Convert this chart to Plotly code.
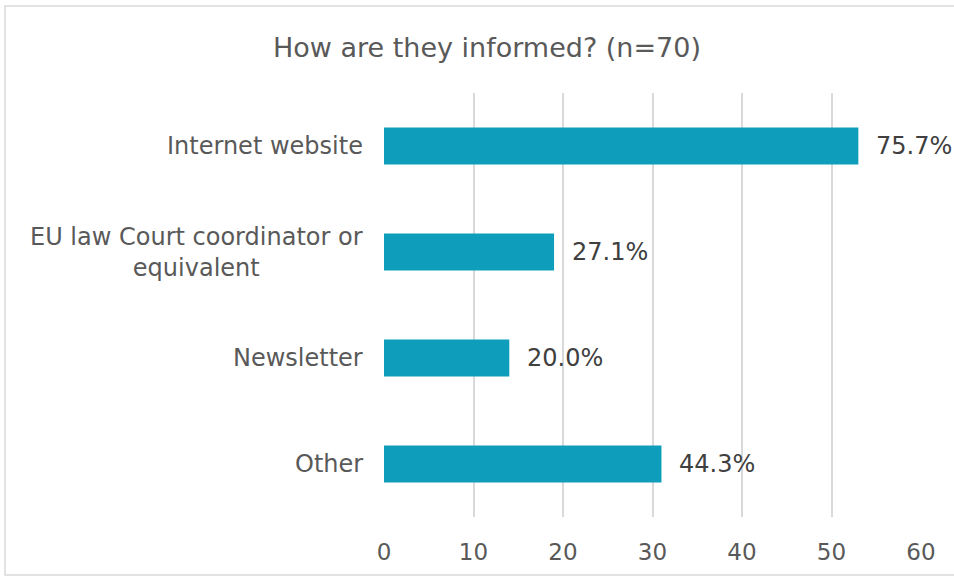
import plotly.graph_objects as go

# Survey responses (n=70): counts per information channel
categories = ["Internet website", "EU law Court coordinator or<br>equivalent", "Newsletter", "Other"]
counts = [53, 19, 14, 31]
pct_labels = ["75.7%", "27.1%", "20.0%", "44.3%"]
x_ticks = [0, 10, 20, 30, 40, 50, 60]

W, H = 954, 576
ML, MR, MT, MB = 384, 33, 93, 59
GREY = "#595959"
BAR = "#0E9DBB"
FONT = "DejaVu Sans"

fig = go.Figure(
    go.Bar(
        x=counts,
        y=categories,
        orientation="h",
        marker=dict(color=BAR, line=dict(width=0)),
        width=0.35,
        hoverinfo="x+y",
    )
)

# Category labels, each line centred, right edge next to the axis
for cat in categories:
    fig.add_annotation(
        x=0, xref="paper", xshift=-19, xanchor="right",
        y=cat, yref="y", yanchor="middle",
        text=cat, showarrow=False, align="center",
        font=dict(family=FONT, size=24, color=GREY),
    )

# Percentage labels just past the end of each bar
for cat, val, lab in zip(categories, counts, pct_labels):
    fig.add_annotation(
        x=val, xref="x", xshift=16, xanchor="left",
        y=cat, yref="y", yanchor="middle",
        text=lab, showarrow=False,
        font=dict(family=FONT, size=24, color="#404040"),
    )

# Light chart-area border
pw = W - ML - MR
ph = H - MT - MB
fig.add_shape(
    type="rect", xref="paper", yref="paper",
    x0=(5 - ML) / pw, x1=(W + 10 - ML) / pw,
    y0=-(MB - 1) / ph, y1=1 + (MT - 6) / ph,
    line=dict(color="#d9d9d9", width=1.5), fillcolor="rgba(0,0,0,0)", layer="below",
)

fig.update_layout(
    width=W, height=H,
    margin=dict(l=ML, r=MR, t=MT, b=MB, pad=0),
    paper_bgcolor="white", plot_bgcolor="white",
    showlegend=False,
    title=dict(
        text="How are they informed? (n=70)",
        x=487 / W, xanchor="center", xref="container",
        y=1 - 48 / H, yanchor="middle", yref="container",
        font=dict(family=FONT, size=27, color=GREY),
    ),
    xaxis=dict(
        range=[0, 60], tickvals=x_ticks,
        showgrid=True, gridcolor="#d9d9d9", gridwidth=1.5,
        zeroline=False, showline=False, ticks="",
        tickfont=dict(family=FONT, size=23, color=GREY),
        ticklabelstandoff=19,
        fixedrange=True,
    ),
    yaxis=dict(
        categoryorder="array", categoryarray=categories[::-1],
        showticklabels=False, showgrid=False, zeroline=False,
        showline=False, ticks="", fixedrange=True,
    ),
)

fig.write_html("out.html")
